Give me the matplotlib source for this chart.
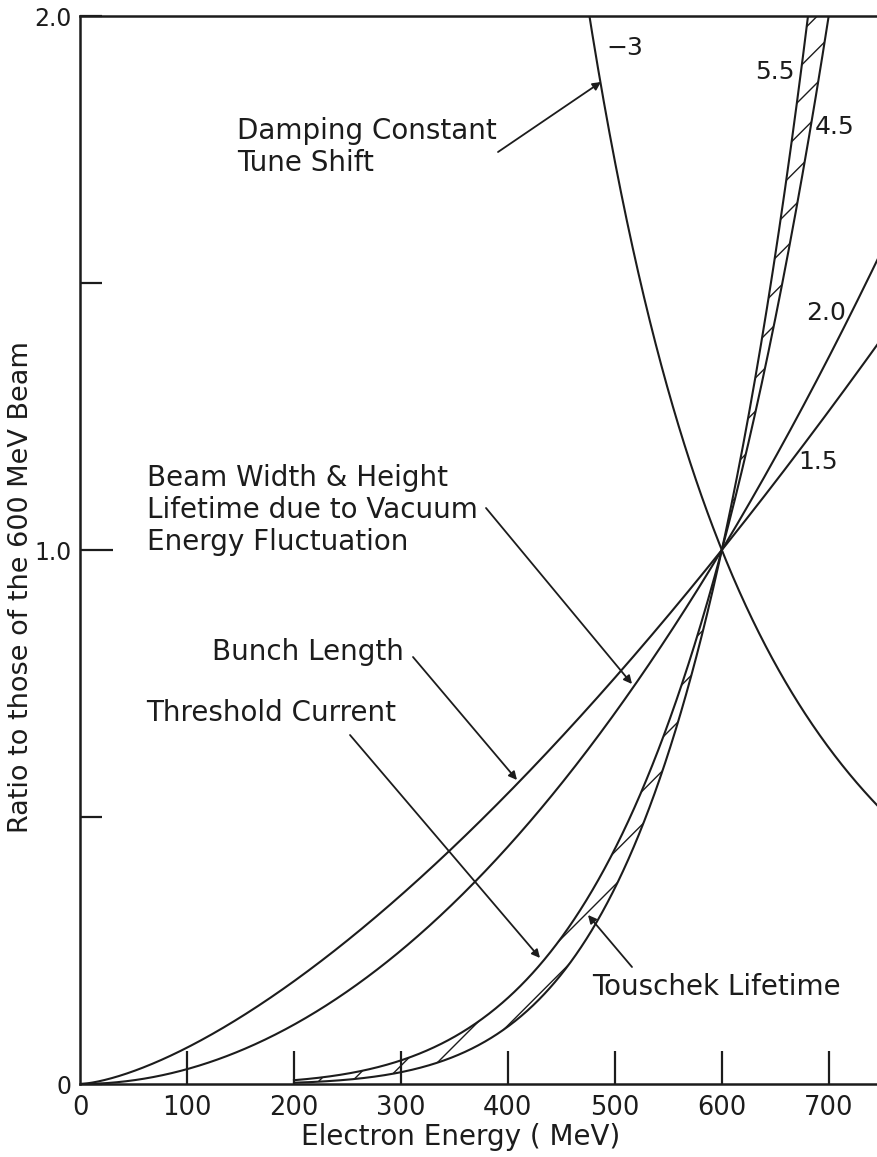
import numpy as np
import matplotlib
matplotlib.use("Agg")
import matplotlib.pyplot as plt

# scaling exponents: quantity ~ (E / 600 MeV) ** n
ref_energy = 600.0
n_damping = -3.0
n_touschek_hi = 5.5
n_touschek_lo = 4.5
n_width = 2.0
n_bunch = 1.5

x_ticks = [0, 100, 200, 300, 400, 500, 600, 700]
y_ticks = [0, 0.5, 1.0, 1.5, 2.0]
y_ticklabels = ["0", "", "1.0", "", "2.0"]

ink = "#1c1c1c"
plt.rcParams["font.family"] = ["DejaVu Sans"]
plt.rcParams["hatch.linewidth"] = 1.0
plt.rcParams["hatch.color"] = ink

fig = plt.figure(figsize=(8.78, 11.57), dpi=100)
ax = fig.add_axes([80 / 878, 73 / 1157, 798 / 878, 1068 / 1157])

E = np.linspace(0.0, 760.0, 800)
En = np.linspace(300.0, 760.0, 600)


def ratio(e, n):
    return (e / ref_energy) ** n


lw = 1.5
ax.plot(En, ratio(En, n_damping), color=ink, lw=lw)
ax.plot(E, ratio(E, n_width), color=ink, lw=lw)
ax.plot(E, ratio(E, n_bunch), color=ink, lw=lw)

# Touschek band, hatched between the two exponents
Et = np.linspace(200.0, 760.0, 800)
hi = ratio(Et, n_touschek_hi)
lo = ratio(Et, n_touschek_lo)
ax.plot(Et, hi, color=ink, lw=lw)
ax.plot(Et, lo, color=ink, lw=lw)
ax.fill_between(Et, np.minimum(hi, lo), np.maximum(hi, lo), facecolor="none",
                edgecolor=ink, hatch="/", linewidth=0)

ax.set_xlim(0, 746)
ax.set_ylim(0, 2.0)

for side in ["left", "bottom", "top"]:
    ax.spines[side].set_linewidth(1.8)
    ax.spines[side].set_color(ink)
ax.spines["right"].set_visible(False)

ax.set_xticks(x_ticks)
ax.set_xticklabels([str(v) for v in x_ticks])
ax.set_yticks(y_ticks)
ax.set_yticklabels(y_ticklabels)
ax.tick_params(axis="x", direction="in", length=24, width=1.6, pad=8,
               labelsize=18.5, colors=ink)
ax.tick_params(axis="y", direction="in", length=16, width=1.6, pad=6,
               labelsize=17, colors=ink)
ax.yaxis.get_major_ticks()[2].tick1line.set_markersize(24)
ax.xaxis.get_major_ticks()[0].tick1line.set_visible(False)

fig.text(21 / 878, 1 - 587 / 1157, "Ratio to those of the 600 MeV Beam",
         rotation=90, ha="center", va="center", fontsize=19.5, color=ink)
fig.text(461 / 878, 1 - 1137 / 1157, "Electron Energy ( MeV)",
         ha="center", va="center", fontsize=20, color=ink)

fs = 20
arrow = dict(arrowstyle="-|>", lw=1.3, color=ink, mutation_scale=12,
             shrinkA=0, shrinkB=0)


def to_data(px, py):
    return ((px - 80) / 798 * 746, (1084 - py) / 1068 * 2.0)


def note(text, pos, ha="left", va="center", size=fs):
    ax.text(*to_data(*pos), text, ha=ha, va=va, fontsize=size, color=ink,
            linespacing=1.2)


def pointer(start, end):
    ax.annotate("", xy=to_data(*end), xytext=to_data(*start), arrowprops=arrow)


note("Damping Constant\nTune Shift", (237, 147))
pointer((498, 152), (601, 82))

note("Beam Width & Height\nLifetime due to Vacuum\nEnergy Fluctuation", (147, 510))
pointer((486, 508), (632, 684))

note("Bunch Length", (404, 652), ha="right")
pointer((413, 657), (517, 780))

note("Threshold Current", (396, 713), ha="right")
pointer((350, 735), (540, 958))

note("Touschek Lifetime", (592, 987))
pointer((632, 967), (588, 915))

note("\u22123", (606, 48), size=18)
note("5.5", (755, 72), size=18)
note("4.5", (815, 127), size=18)
note("2.0", (806, 313), size=18)
note("1.5", (798, 462), size=18)

fig.savefig("out.png", dpi=100)
